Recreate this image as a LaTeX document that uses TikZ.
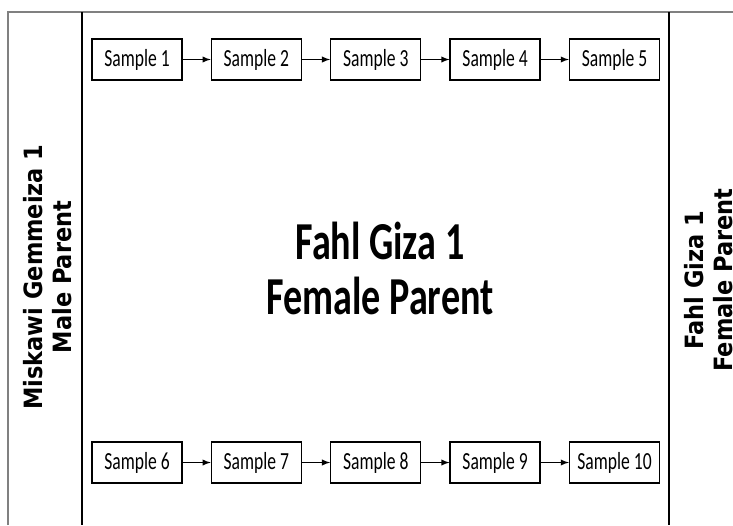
\documentclass[tikz,border=0pt]{standalone}
\usepackage{graphicx}
\usepackage{fontspec}
\setmainfont{Carlito}
\newfontfamily\sidefont{DejaVu Sans}
\usetikzlibrary{positioning}
\tikzset{
	sample/.style={draw, line width=0.8pt, minimum width=1.8cm, minimum height=0.82cm, inner sep=0pt, font=\fontsize{10}{12}\selectfont},
	parent/.style={align=center, rotate=90, font=\sidefont\bfseries\fontsize{12.8}{16.5}\selectfont},
	frame/.style={line width=0.6pt},
}
\newcommand{\tall}[1]{\scalebox{1}[1.4]{#1}}
\newcommand{\thick}[1]{\scalebox{1}[1.12]{#1}}
\begin{document}
\begin{tikzpicture}[x=0.02cm, y=-0.02cm]
	\clip (0,0) rectangle (733,525);
	\fill[white] (0,0) rectangle (733,525);
	% frame lines
	\draw[frame, gray] (8,525) -- (8,12) -- (733,12);
	\draw[frame] (82,12) -- (82,525);
	\draw[frame] (669,12) -- (669,525);
	% top row
	\node[sample] (s1) at (137,59.5) {\tall{Sample 1}};
	\node[sample, right=0.56cm of s1] (s2) {\tall{Sample 2}};
	\node[sample, right=0.56cm of s2] (s3) {\tall{Sample 3}};
	\node[sample, right=0.56cm of s3] (s4) {\tall{Sample 4}};
	\node[sample, right=0.56cm of s4] (s5) {\tall{Sample 5}};
	% bottom row
	\node[sample] (s6) at (137,462.5) {\tall{Sample 6}};
	\node[sample, right=0.56cm of s6] (s7) {\tall{Sample 7}};
	\node[sample, right=0.56cm of s7] (s8) {\tall{Sample 8}};
	\node[sample, right=0.56cm of s8] (s9) {\tall{Sample 9}};
	\node[sample, right=0.56cm of s9] (s10) {\tall{Sample 10}};
	\foreach \a/\b in {1/2,2/3,3/4,4/5,6/7,7/8,8/9,9/10}
		\draw[->, >=latex, line width=0.6pt] (s\a) -- (s\b);
	% parents
	\node[align=center, font=\bfseries\fontsize{21.7}{31.3}\selectfont] (female) at (380,268) {\tall{Fahl Giza 1}\\\tall{Female Parent}};
	\node[parent] (male) at (48,277) {\thick{Miskawi Gemmeiza 1}\\\thick{Male Parent}};
	\node[parent] (femaleside) at (709,280) {\thick{Fahl Giza 1}\\\thick{Female Parent}};
\end{tikzpicture}
\end{document}
